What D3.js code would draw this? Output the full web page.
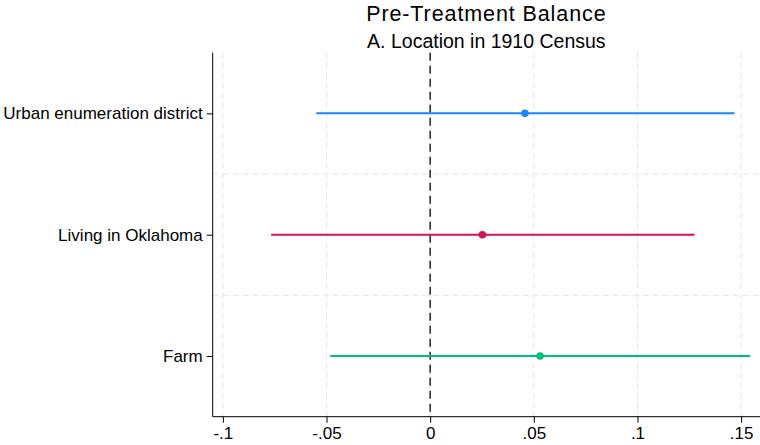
<!DOCTYPE html>
<html>
<head>
<meta charset="utf-8">
<script src="https://cdn.jsdelivr.net/npm/d3@7"></script>
<style>
  body { margin: 0; background: #fff; }
  svg { font-family: "Liberation Sans", Arial, Helvetica, sans-serif; }
</style>
</head>
<body>
<div id="chart"></div>
<script>
// coefficient plot data
let categories = ['Urban enumeration district', 'Living in Oklahoma', 'Farm'];
let estimates = [0.0457, 0.0252, 0.0530];
let lowerCI = [-0.0549, -0.0767, -0.0482];
let upperCI = [0.1468, 0.1275, 0.1544];
let colors = ['#1a85ff', '#d41159', '#00bf7f'];
let xTicks = [-0.1, -0.05, 0, 0.05, 0.1, 0.15];
let xTickLabels = ['-.1', '-.05', '0', '.05', '.1', '.15'];

let width = 760, height = 445;
let margin = {top: 52.7, right: 0, bottom: 28.3, left: 212.7};

let svg = d3.select('#chart')
    .append('svg')
    .attr('width', width)
    .attr('height', height);

let x = d3.scaleLinear()
    .domain([-0.1049, 0.1591])
    .range([margin.left, width - margin.right]);

// categories sit at 1..3, plot spans 0.5..3.5
let y = d3.scaleLinear()
    .domain([0.5, 3.5])
    .range([margin.top, height - margin.bottom]);

let grid = svg.append('g').attr('class', 'grid');

// vertical grid
grid.selectAll('.vgrid')
    .data(xTicks)
    .enter()
    .append('line')
    .attr('x1', d => x(d)).attr('x2', d => x(d))
    .attr('y1', margin.top).attr('y2', height - margin.bottom)
    .attr('stroke', '#e6e6e6')
    .attr('stroke-width', 1)
    .attr('stroke-dasharray', '6,4');

// horizontal grid between categories
grid.selectAll('.hgrid')
    .data([1.5, 2.5])
    .enter()
    .append('line')
    .attr('x1', margin.left).attr('x2', width)
    .attr('y1', d => y(d)).attr('y2', d => y(d))
    .attr('stroke', '#e6e6e6')
    .attr('stroke-width', 1)
    .attr('stroke-dasharray', '6,4');

// zero reference line
svg.append('line')
    .attr('x1', x(0)).attr('x2', x(0))
    .attr('y1', margin.top).attr('y2', height - margin.bottom)
    .attr('stroke', '#333')
    .attr('stroke-width', 1.6)
    .attr('stroke-dasharray', '8,5');

let rows = categories.map(function(c, i) {
    return {name: c, est: estimates[i], lo: lowerCI[i], hi: upperCI[i], color: colors[i], pos: i + 1};
});

let marks = svg.append('g').attr('class', 'marks');

marks.selectAll('.ci')
    .data(rows)
    .enter()
    .append('line')
    .attr('x1', d => x(d.lo)).attr('x2', d => x(d.hi))
    .attr('y1', d => y(d.pos)).attr('y2', d => y(d.pos))
    .attr('stroke', d => d.color)
    .attr('stroke-width', 2);

marks.selectAll('.pt')
    .data(rows)
    .enter()
    .append('circle')
    .attr('cx', d => x(d.est))
    .attr('cy', d => y(d.pos))
    .attr('r', 3.8)
    .attr('fill', d => d.color);

// x axis
let xAxis = svg.append('g')
    .attr('transform', 'translate(0,' + (height - margin.bottom) + ')')
    .call(d3.axisBottom(x)
        .tickValues(xTicks)
        .tickFormat((d, i) => xTickLabels[i])
        .tickSize(6)
        .tickPadding(4));
xAxis.select('.domain').attr('d', 'M' + margin.left + ',0H' + width).attr('stroke', '#000');
xAxis.selectAll('text').attr('font-size', 17).attr('fill', '#000')
    .attr('font-family', '"Liberation Sans", Arial, sans-serif');

// y axis
let yAxis = svg.append('g')
    .attr('transform', 'translate(' + margin.left + ',0)')
    .call(d3.axisLeft(y)
        .tickValues(rows.map(d => d.pos))
        .tickFormat((d, i) => categories[i])
        .tickSize(6)
        .tickPadding(4));
yAxis.select('.domain').attr('d', 'M0,' + margin.top + 'V' + (height - margin.bottom)).attr('stroke', '#000');
yAxis.selectAll('text').attr('font-size', 17).attr('fill', '#000')
    .attr('font-family', '"Liberation Sans", Arial, sans-serif');

// titles
let cx = (margin.left + width) / 2;
svg.append('text')
    .attr('x', cx).attr('y', 20.5)
    .attr('text-anchor', 'middle')
    .attr('font-size', 21.5)
    .attr('letter-spacing', 0.9)
    .text('Pre-Treatment Balance');
svg.append('text')
    .attr('x', cx).attr('y', 47.5)
    .attr('text-anchor', 'middle')
    .attr('font-size', 19.5)
    .text('A. Location in 1910 Census');
</script>
</body>
</html>
